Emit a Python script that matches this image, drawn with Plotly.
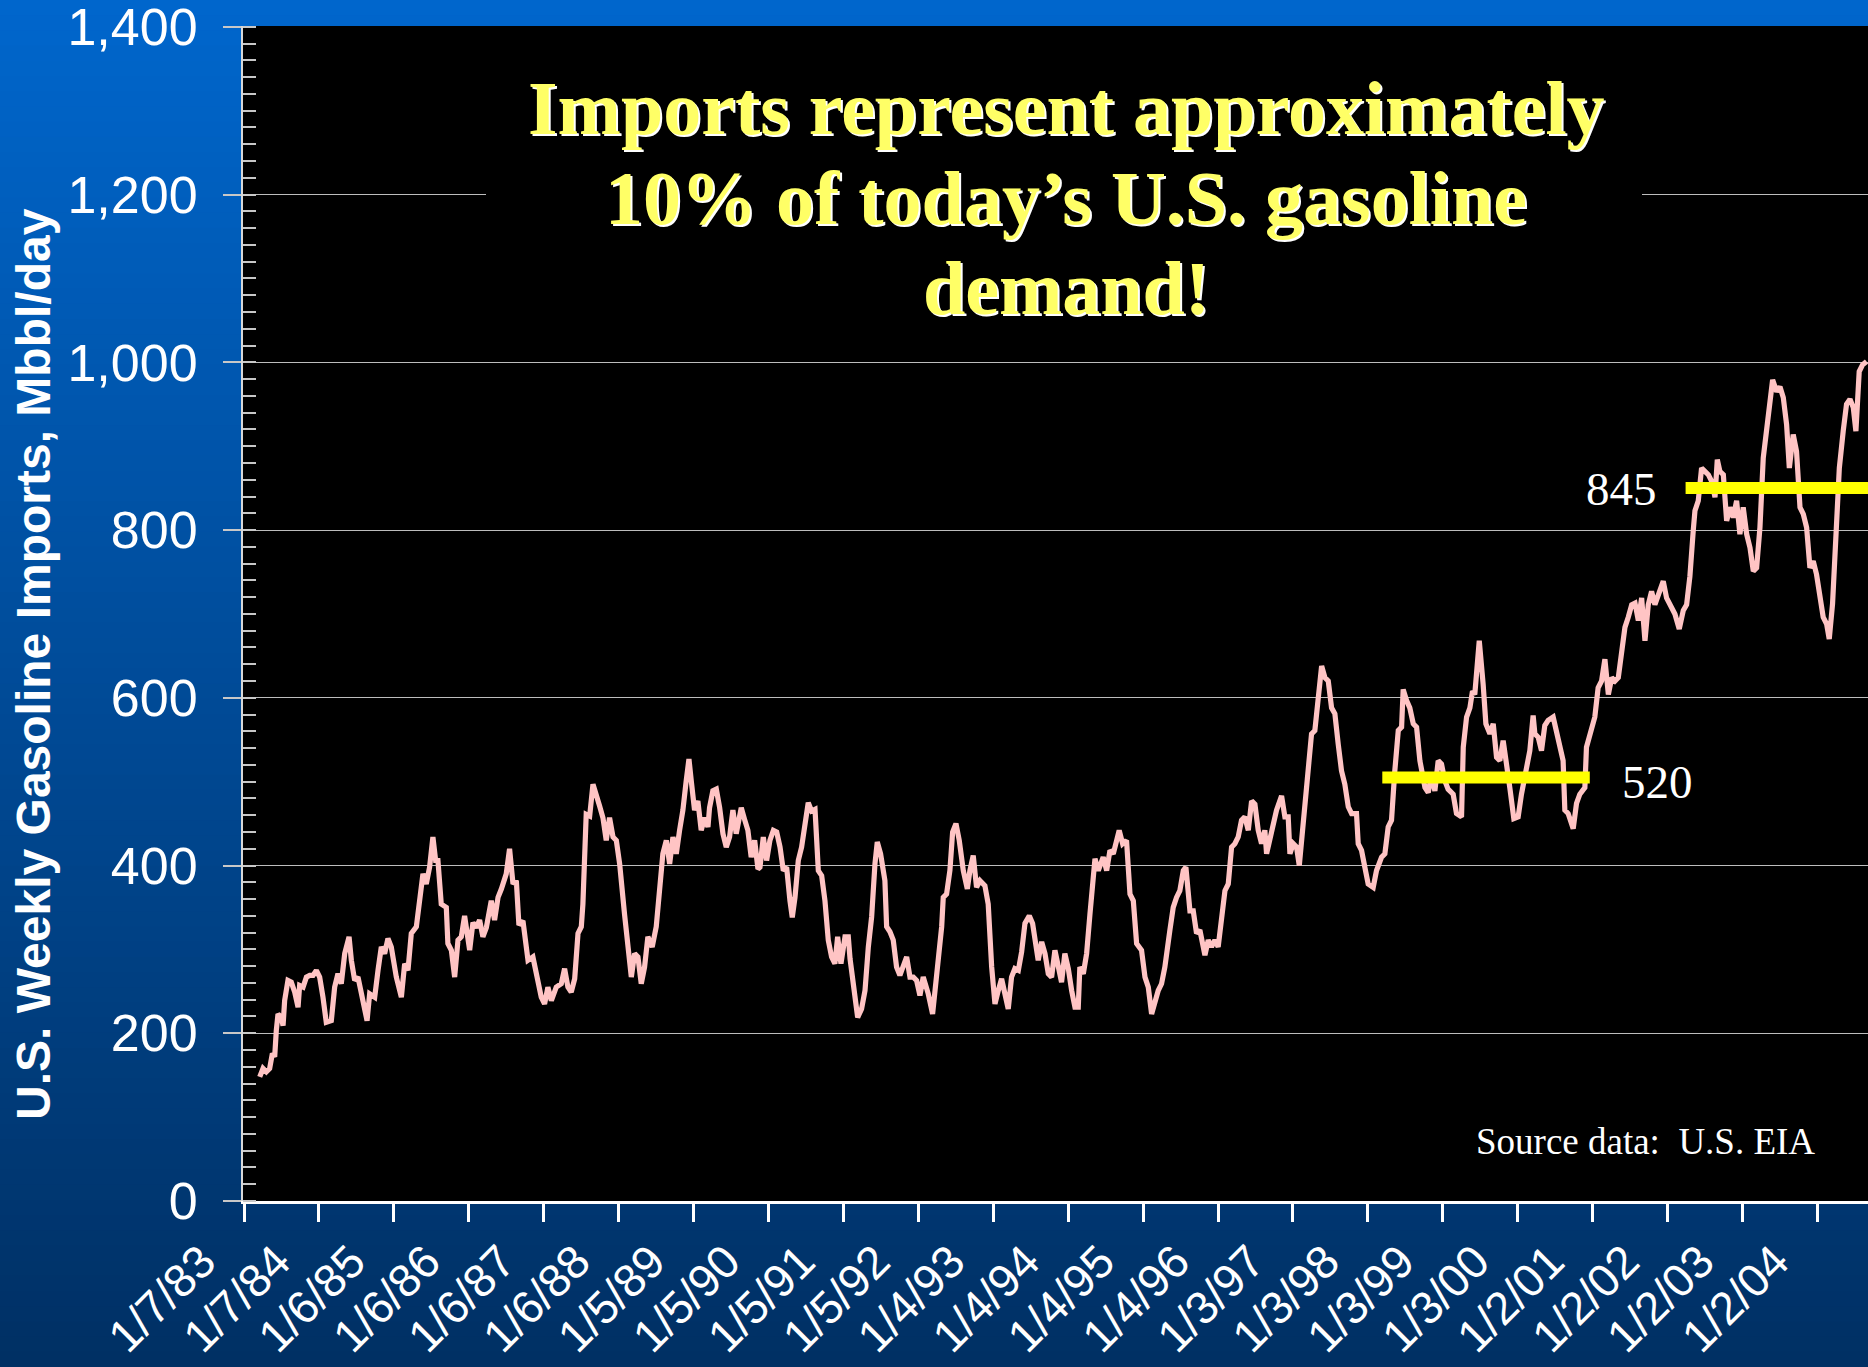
import plotly.graph_objects as go

# ---------------- data ----------------
tick_weeks = [0, 52, 104, 156, 208, 260, 312, 364, 416, 468, 520, 572, 624, 676, 728, 780, 832, 884, 936, 988, 1040, 1092]
tick_labels = ["1/7/83", "1/7/84", "1/6/85", "1/6/86", "1/6/87", "1/6/88", "1/5/89", "1/5/90", "1/5/91",
               "1/5/92", "1/4/93", "1/4/94", "1/4/95", "1/4/96", "1/3/97", "1/3/98", "1/3/99", "1/3/00",
               "1/2/01", "1/2/02", "1/2/03", "1/2/04"]
y_ticks = [0, 200, 400, 600, 800, 1000, 1200, 1400]

weeks = [
    10.9, 13.2, 15.5, 17.8, 19.7, 21.3, 22.4, 23.6, 25.9, 27.1, 28.2, 30.5, 32.8, 35.2, 37.5, 38.6, 41.0, 43.3,
    45.6, 47.9, 50.2, 52.5, 54.8, 57.1, 60.6, 62.9, 65.2, 67.5, 69.9, 72.9, 74.5, 76.8, 79.1, 81.4, 85.4, 87.2,
    90.7, 93.0, 95.3, 97.6, 99.9, 102.2, 105.7, 109.2, 111.5, 113.8, 116.1, 119.6, 121.9, 124.2, 126.5, 128.8,
    131.1, 133.0, 134.6, 136.9, 140.4, 141.5, 143.9, 146.2, 148.5, 150.8, 153.1, 156.6, 158.9, 161.2, 163.5,
    165.8, 168.2, 171.6, 173.9, 176.3, 178.6, 182.0, 184.3, 186.7, 189.0, 190.8, 193.6, 197.1, 200.5, 204.0,
    206.3, 208.6, 210.9, 213.3, 216.7, 220.2, 222.5, 224.8, 227.1, 229.5, 231.8, 234.1, 235.2, 237.5, 239.9,
    242.2, 244.5, 246.8, 249.1, 251.4, 253.7, 256.1, 258.4, 260.7, 264.1, 267.6, 268.8, 271.1, 273.4, 275.7,
    278.0, 280.3, 283.3, 286.1, 288.4, 290.7, 293.1, 295.4, 297.7, 300.0, 302.3, 304.6, 306.9, 308.8, 310.4,
    312.7, 315.0, 317.3, 319.7, 322.0, 323.1, 325.4, 327.8, 330.1, 332.4, 334.7, 337.0, 339.3, 341.6, 345.1,
    347.4, 349.7, 352.0, 354.4, 356.7,
    358.1, 360.4, 362.7, 365.0, 367.4, 369.7, 372.0, 374.3, 376.6, 378.9, 380.5, 382.4, 384.7, 387.0, 389.3,
    391.6, 393.9, 396.3, 398.6, 400.9, 403.2, 405.5, 407.8, 410.1, 412.0, 414.3, 417.1, 419.4, 420.6, 422.9,
    425.9, 428.6, 431.0, 433.3, 435.6, 437.9, 439.5, 441.8, 444.8, 446.0, 448.3, 450.6, 452.9, 455.2, 457.6,
    459.9, 462.2, 464.5, 466.8, 469.1, 471.4, 474.9, 477.9, 479.5, 481.8, 484.2, 485.3, 487.6, 489.9, 491.8,
    494.1, 496.4, 499.2, 502.0, 503.8, 506.1, 508.4, 510.8, 514.2, 516.5, 518.9, 521.2, 523.5, 525.8, 528.1,
    530.4, 532.7, 535.0, 537.4, 539.7, 542.0, 545.0, 547.3, 548.9, 551.2, 553.6, 555.9, 558.2, 560.5, 562.8,
    565.1, 567.4, 569.7, 572.1, 574.4, 576.7, 579.0, 580.1, 582.5, 584.8, 587.1, 589.4, 590.6, 592.9, 596.3,
    598.7, 601.0, 603.3, 605.6, 607.4, 609.8, 612.5, 614.9, 617.2, 619.5, 622.9, 625.3, 627.6, 629.9, 632.2,
    634.5, 636.8, 639.1, 642.6, 644.9, 647.2, 649.5, 651.9, 653.7, 656.5, 658.8, 661.1, 663.4, 666.9, 669.2,
    671.5, 673.8, 676.1, 678.4, 680.8, 683.1, 685.4, 687.7, 690.0, 692.3, 694.6, 697.0, 699.3, 701.6, 703.9,
    706.2, 708.5, 709.7, 712.0, 714.3,
    716.6, 720.1, 722.4, 724.7, 725.9, 728.2, 730.5, 732.4, 734.0, 736.3, 738.6, 740.9, 743.2, 745.5, 747.9,
    750.2, 752.5, 754.8, 757.1, 759.4, 761.7, 764.0, 766.4, 768.7, 772.1, 773.3, 775.6, 777.9, 780.2, 783.7,
    786.0, 789.5, 791.8, 794.1, 796.4, 798.7, 801.1, 803.4, 804.5, 806.8, 809.1, 811.5, 813.8, 816.1, 819.6,
    821.9, 824.2, 826.5, 828.8, 831.1, 833.4, 835.7, 839.2, 841.5, 845.0, 846.2, 848.5, 850.8, 852.6, 854.2,
    857.3, 860.0, 861.9, 864.7, 867.0, 869.3, 871.6, 873.9, 876.2, 878.5, 881.3, 884.3, 886.6, 890.1, 892.4,
    894.7, 895.9, 898.2, 900.5, 902.8, 905.1, 908.6, 910.9, 913.2, 915.5, 916.7, 919.0, 922.5, 924.8, 927.1,
    930.6, 931.7, 935.2, 937.5, 939.8,
    942.2, 944.5, 946.9, 949.2, 951.5, 953.8, 956.1, 958.4, 960.7, 963.1, 965.4, 967.7, 970.0, 972.3, 974.6,
    976.9, 979.2, 981.6, 985.0, 987.3, 989.7, 993.1, 996.1, 998.9, 1001.2, 1003.5,
    1005.8, 1007.0, 1009.3, 1011.6, 1013.9, 1016.3, 1018.6, 1020.9, 1022.5, 1024.3, 1026.7, 1029.0, 1031.3,
    1033.6, 1035.9, 1038.2, 1040.5, 1042.9, 1045.2, 1047.5, 1049.8, 1052.1, 1054.4, 1056.7, 1059.0, 1060.9,
    1063.7, 1066.0, 1068.3, 1070.6, 1072.5, 1075.2, 1077.5, 1079.9, 1082.2, 1084.5, 1086.8, 1089.1, 1091.4,
    1093.7, 1096.0, 1098.4, 1100.2, 1102.5, 1104.8, 1107.2, 1109.9, 1112.2, 1114.6, 1116.9, 1118.7, 1121.0,
    1123.3, 1126.1,
]

imports_mbbl_day = [
    148, 158, 154, 158, 176, 172, 203, 223, 219, 209, 239, 263, 261, 249, 231, 257, 255, 267,
    269, 269, 275, 267, 243, 213, 215, 255, 271, 259, 295, 315, 287, 263, 267, 247, 215, 247,
    243, 275, 303, 295, 313, 303, 267, 243, 283, 275, 319, 327, 354, 390, 378, 398,
    434, 406, 406, 354, 350, 307, 299, 267, 311, 315, 340, 299, 332, 326, 335,
    315, 326, 358, 335, 362, 372, 390, 420, 378, 382, 329, 334, 287, 291, 263,
    243, 235, 255, 239, 255, 259, 277, 255, 249, 265, 319, 327, 354, 461, 459,
    497, 481, 471, 457, 430, 457, 434, 430, 402, 342, 295, 267, 295, 291, 259,
    279, 315, 303, 327, 378, 414, 430, 402, 434, 414, 442, 466, 501, 527, 501,
    466, 477, 442, 457, 446, 469, 489, 491, 469, 438, 422, 434, 466, 438, 469,
    455, 442, 410, 430, 396,
    398, 434, 406, 430, 442, 440, 422, 394, 398, 358, 338, 362, 406, 422, 454,
    475, 465, 467, 394, 388, 358, 311, 291, 283, 315, 283, 315, 315, 289, 255,
    219, 229, 251, 303, 339, 402, 428, 414, 382, 327, 321, 311, 279, 269, 279,
    291, 267, 267, 263, 245, 267, 247, 223, 247, 287, 327, 362, 366, 394, 440,
    450, 430, 394, 372, 394, 412, 374, 382, 376, 354, 279, 235, 251, 265, 247,
    229, 267, 277, 275, 297, 331, 340, 331, 311, 287, 309, 295, 271, 267, 299,
    279, 261, 295, 277, 251, 231, 231, 279, 271, 295, 342, 382, 408, 394, 410,
    394, 418, 414, 434, 442, 426, 430, 366, 358, 307, 299, 267, 255, 223, 239,
    251, 259, 279, 323, 350, 362, 370, 394, 398, 346, 346, 319, 323, 293, 311,
    303, 311, 303, 331, 370, 378, 422, 426, 434, 454, 458, 442, 477, 473, 442,
    426, 442, 414, 430, 450,
    466, 483, 458, 458, 414, 426, 422, 400, 430, 477, 521, 557, 561, 596, 638,
    624, 620, 588, 581, 545, 513, 497, 470, 462, 462, 426, 418, 398, 378, 374,
    394, 410, 414, 446, 454, 513, 561, 565, 610, 597, 588, 569, 565, 525, 493,
    487, 509, 489, 525, 521, 501, 491, 485, 462, 458, 541, 577, 588, 608, 604,
    668, 616, 569, 557, 569, 529, 525, 549, 525, 493, 456, 458, 485, 517, 537,
    579, 557, 553, 537, 567, 573, 577, 557, 545, 525, 466, 462, 444, 474, 485,
    493, 541, 561, 577, 612,
    620, 646, 604, 624, 620, 624, 652, 684, 696, 711, 713, 692, 719, 668, 711,
    727, 711, 723, 739, 719, 711, 700, 682, 704, 711, 745,
    799, 823, 835, 874, 870, 866, 858, 839, 884, 870, 866, 811, 827,
    815, 835, 795, 827, 795, 779, 751, 755, 803, 886, 918, 962, 979,
    965, 971, 958, 926, 874, 914, 894, 827, 819, 803, 755, 763, 747,
    723, 696, 688, 670, 712, 799, 874, 918, 950, 956, 946, 918, 989,
    997, 1001,
]

avg_1999_2001_weeks = [790, 934]
avg_1999_2001 = [505, 505]
avg_1999_2001_label = "520"
avg_2003_2004_weeks = [1000.5, 1127.1]
avg_2003_2004 = [850, 850]
avg_2003_2004_label = "845"

title_lines = ["Imports represent approximately", "10% of today\u2019s U.S. gasoline", "demand!"]
y_title = "U.S. Weekly Gasoline Imports, Mbbl/day"
source_text = "Source data:\u00a0 U.S. EIA"

# ---------------- figure ----------------
W, H = 1868, 1367
L, R, T, B = 243, 0, 26, 166
pw, ph = W - L - R, H - T - B


def px_to_paper_x(px):
    return (px - L) / pw


def px_to_paper_y(py):
    return (H - B - py) / ph


fig = go.Figure()

fig.add_trace(go.Scatter(x=weeks, y=imports_mbbl_day, mode="lines",
                         line=dict(color="#FFC4C4", width=5.2), showlegend=False, hoverinfo="skip"))
fig.add_trace(go.Scatter(x=avg_1999_2001_weeks, y=avg_1999_2001, mode="lines",
                         line=dict(color="#FFFF00", width=12), showlegend=False, hoverinfo="skip"))
fig.add_trace(go.Scatter(x=avg_2003_2004_weeks, y=avg_2003_2004, mode="lines",
                         line=dict(color="#FFFF00", width=12), showlegend=False, hoverinfo="skip"))

shapes = []
# background vertical gradient (whole page)
n_bands = 90
top_c = (0, 102, 204)
bot_c = (0, 48, 100)
y_top = px_to_paper_y(0)
y_bot = px_to_paper_y(H)
for i in range(n_bands):
    t = i / (n_bands - 1)
    c = tuple(round(top_c[k] + (bot_c[k] - top_c[k]) * t) for k in range(3))
    y0 = y_top + (y_bot - y_top) * i / n_bands
    y1 = y_top + (y_bot - y_top) * (i + 1) / n_bands
    shapes.append(dict(type="rect", xref="paper", yref="paper", x0=px_to_paper_x(0), x1=px_to_paper_x(W),
                       y0=y0, y1=y1 - 0.002, fillcolor="rgb(%d,%d,%d)" % c, line=dict(width=0), layer="below"))
# black plot area
shapes.append(dict(type="rect", xref="paper", yref="paper", x0=0, x1=1, y0=0, y1=1,
                   fillcolor="black", line=dict(width=0), layer="below"))
# black box behind the title (hides gridline)
shapes.append(dict(type="rect", xref="paper", yref="paper", x0=px_to_paper_x(486), x1=px_to_paper_x(1642),
                   y0=px_to_paper_y(345), y1=px_to_paper_y(40), fillcolor="black", line=dict(width=0),
                   layer="above"))

annotations = []
title_y_px = [108, 198, 288]
title_font = "Liberation Serif, Times New Roman, serif"
for line, ypx in zip(title_lines, title_y_px):
    for color, dx, dy in (("white", 2, -2), ("#FFFF66", 0, 0)):
        annotations.append(dict(text="<b>%s</b>" % line, xref="paper", yref="paper",
                                x=px_to_paper_x(1066), y=px_to_paper_y(ypx), xanchor="center", yanchor="middle",
                                xshift=dx, yshift=dy, showarrow=False,
                                font=dict(family=title_font, size=76, color=color)))

annotations.append(dict(text="<b>%s</b>" % y_title, xref="paper", yref="paper",
                        x=px_to_paper_x(33), y=px_to_paper_y(664), xanchor="center", yanchor="middle",
                        textangle=-90, showarrow=False,
                        font=dict(family="Liberation Sans, Arial, sans-serif", size=48, color="white")))
annotations.append(dict(text=avg_1999_2001_label, x=981, y=500, xref="x", yref="y", showarrow=False,
                        xanchor="center", yanchor="middle",
                        font=dict(family=title_font, size=47, color="white")))
annotations.append(dict(text=avg_2003_2004_label, x=956, y=849, xref="x", yref="y", showarrow=False,
                        xanchor="center", yanchor="middle",
                        font=dict(family=title_font, size=47, color="white")))
annotations.append(dict(text=source_text, xref="paper", yref="paper", x=px_to_paper_x(1817),
                        y=px_to_paper_y(1141), xanchor="right", yanchor="middle", showarrow=False,
                        font=dict(family=title_font, size=37, color="white")))

fig.update_layout(
    width=W, height=H,
    margin=dict(l=L, r=R, t=T, b=B, pad=0, autoexpand=False),
    paper_bgcolor="rgb(0,48,100)",
    plot_bgcolor="black",
    shapes=shapes,
    annotations=annotations,
    showlegend=False,
    xaxis=dict(
        range=[-0.7, 1127.1],
        tickmode="array", tickvals=tick_weeks, ticktext=tick_labels,
        tickangle=-45,
        tickfont=dict(family="Liberation Sans, Arial, sans-serif", size=46, color="white"),
        ticks="outside", ticklen=18, tickwidth=3, tickcolor="white",
        ticklabelshift=-42, ticklabelstandoff=-6, ticklabeloverflow="allow",
        showline=True, linecolor="white", linewidth=3,
        showgrid=False, zeroline=False, automargin=False,
    ),
    yaxis=dict(
        range=[0, 1401], tickmode="array", tickvals=y_ticks,
        tickformat=",",
        tickfont=dict(family="Liberation Sans, Arial, sans-serif", size=52, color="white"),
        ticks="outside", ticklen=18, tickwidth=2, tickcolor="#C8C8C8",
        ticklabelstandoff=15, ticklabeloverflow="allow",
        showline=True, linecolor="#D8D8D8", linewidth=2,
        showgrid=True, gridcolor="#BDBDBD", gridwidth=1,
        zeroline=False, automargin=False,
        minor=dict(ticks="inside", tickmode="linear", tick0=0, dtick=20, ticklen=13, tickwidth=2,
                   tickcolor="#C8C8C8", showgrid=False),
    ),
)

fig.write_html("out.html", config={"displayModeBar": False})
